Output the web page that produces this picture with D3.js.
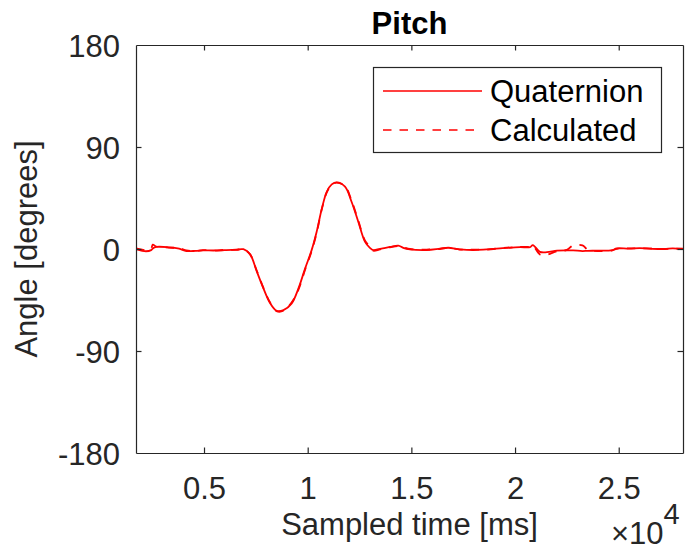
<!DOCTYPE html>
<html>
<head>
<meta charset="utf-8">
<script src="https://cdn.jsdelivr.net/npm/d3@7"></script>
<style>
  html, body { margin: 0; padding: 0; background: #fff; }
  svg { display: block; font-family: "Liberation Sans", Arial, Helvetica, sans-serif; }
</style>
</head>
<body>
<svg id="chart" width="687" height="551"></svg>
<script>
// Sample times (ms) shared by both pitch estimates
const sampleTime = [
  1720, 2200, 2450, 2530, 2700, 3300, 3800, 4150, 4600, 4950,
  5500, 6000, 6550, 6900, 7220, 7540, 7860, 8180, 8500, 8830,
  9230, 9550, 9870, 10190, 10430, 10680, 10920, 11160, 11400, 11800,
  12120, 12440, 12760, 13000, 13160, 13490, 13970, 14370, 14610, 14930,
  15740, 16380, 16780, 17340, 17990, 18630, 19600, 20240, 20720, 20860,
  21200, 21540, 22020, 22500, 22800, 23250, 23500, 24000, 24700, 24900,
  25500, 26000, 26600, 27200, 27600, 28100
];

// Pitch from the quaternion (degrees)
const quaternionPitch = [
  0.0, -2.0, -1.0, 0.5, 1.8, 1.5, 0.3, -1.8, -1.6, -1.2,
  -1.3, -1.0, -0.6, -0.2, -4.5, -19.5, -34.5, -47.5, -54.5, -54.0,
  -48.0, -35.0, -17.5, -1.0, 15.0, 35.5, 50.5, 57.0, 58.8, 55.0,
  41.5, 24.0, 6.5, 1.0, -0.9, 0.2, 1.8, 3.0, 1.0, -0.3,
  -0.9, 0.3, 1.1, -0.3, -0.9, -0.3, 1.0, 1.6, 1.6, 3.5,
  -2.5, -2.8, -1.5, -1.2, -1.2, -1.8, -1.6, -1.5, -1.0, 0.5,
  0.3, 0.8, 0.2, 0.0, 0.5, 0.0
];

// Pitch calculated from the raw sensor data (degrees)
const calculatedPitch = [
  0.5, -1.0, 0.5, 3.8, 2.2, 1.2, 0.8, -1.2, -2.0, -1.0,
  -1.5, -0.8, -0.8, -0.3, -4.8, -19.0, -34.0, -47.0, -54.8, -54.5,
  -47.0, -36.0, -18.5, -2.0, 14.0, 35.0, 50.0, 57.0, 58.5, 55.5,
  42.5, 25.0, 7.5, 2.0, -1.5, -0.3, 1.5, 2.5, 1.5, 0.0,
  -0.5, 0.0, 1.0, -0.5, -0.6, -0.5, 1.2, 1.8, 2.0, 3.0,
  -4.8, -5.0, -2.0, -0.8, 3.2, 3.2, -0.5, -1.8, -1.2, 0.2,
  0.5, 0.5, 0.4, 0.0, 0.3, 0.2
];

const xTicks = [5000, 10000, 15000, 20000, 25000];
const xTickLabels = ["0.5", "1", "1.5", "2", "2.5"];
const yTicks = [-180, -90, 0, 90, 180];
const yTickLabels = ["-180", "-90", "0", "90", "180"];
const seriesNames = ["Quaternion", "Calculated"];

const axisColor = "#262626";
const lineColor = "#ff0000";
const dashPattern = "8.5,8";
const plot = { left: 136, right: 683, top: 45, bottom: 453 };

const svg = d3.select("#chart");

const x = d3.scaleLinear().domain([1720, 28100]).range([plot.left, plot.right]);
const y = d3.scaleLinear().domain([-180, 180]).range([plot.bottom, plot.top]);

// Series lines
const line = vals => d3.line()
  .x((d, i) => x(sampleTime[i]))
  .y(d => y(d))
  .curve(d3.curveCatmullRom.alpha(0.5))(vals);

svg.append("clipPath").attr("id", "plotClip")
  .append("rect")
  .attr("x", plot.left).attr("y", plot.top)
  .attr("width", plot.right - plot.left).attr("height", plot.bottom - plot.top);

const lines = svg.append("g").attr("clip-path", "url(#plotClip)");
lines.append("path")
  .attr("d", line(quaternionPitch))
  .attr("fill", "none").attr("stroke", lineColor).attr("stroke-width", 1.8);
lines.append("path")
  .attr("d", line(calculatedPitch))
  .attr("fill", "none").attr("stroke", lineColor).attr("stroke-width", 1.8)
  .attr("stroke-dasharray", dashPattern);

// Axes (ticks pointing inward, box on all four sides)
const tickLen = 5.5;

const bottomAxis = svg.append("g")
  .attr("transform", `translate(0,${plot.bottom})`)
  .call(d3.axisBottom(x).tickValues(xTicks).tickFormat((d, i) => xTickLabels[i])
    .tickSizeInner(-tickLen).tickSizeOuter(0).tickPadding(46));
const topAxis = svg.append("g")
  .attr("transform", `translate(0,${plot.top})`)
  .call(d3.axisTop(x).tickValues(xTicks).tickFormat("").tickSizeInner(-tickLen).tickSizeOuter(0));
const leftAxis = svg.append("g")
  .attr("transform", `translate(${plot.left},0)`)
  .call(d3.axisLeft(y).tickValues(yTicks).tickFormat((d, i) => yTickLabels[i])
    .tickSizeInner(-tickLen).tickSizeOuter(0).tickPadding(16));
const rightAxis = svg.append("g")
  .attr("transform", `translate(${plot.right},0)`)
  .call(d3.axisRight(y).tickValues(yTicks).tickFormat("").tickSizeInner(-tickLen).tickSizeOuter(0));

[bottomAxis, topAxis, leftAxis, rightAxis].forEach(g => {
  g.select(".domain").attr("stroke", axisColor).attr("stroke-width", 1.2);
  g.selectAll(".tick line").attr("stroke", axisColor).attr("stroke-width", 1.2);
  g.selectAll(".tick text")
    .attr("fill", axisColor)
    .style("font-family", "'Liberation Sans', Arial, sans-serif")
    .style("font-size", "31px");
});
// drop tick marks that sit on the box corners
leftAxis.selectAll(".tick line").filter(d => d === -180 || d === 180).remove();
rightAxis.selectAll(".tick line").filter(d => d === -180 || d === 180).remove();
leftAxis.selectAll(".tick text").attr("dy", "0.36em");
bottomAxis.selectAll(".tick text").attr("dy", "0");

// Title and axis labels
svg.append("text")
  .attr("x", (plot.left + plot.right) / 2).attr("y", 34)
  .attr("text-anchor", "middle")
  .attr("font-weight", "bold").attr("font-size", 31).attr("fill", "#000")
  .text("Pitch");

svg.append("text")
  .attr("x", (plot.left + plot.right) / 2).attr("y", 535)
  .attr("text-anchor", "middle")
  .attr("font-size", 31).attr("fill", axisColor)
  .text("Sampled time [ms]");

svg.append("text")
  .attr("transform", `translate(37,${(plot.top + plot.bottom) / 2}) rotate(-90)`)
  .attr("text-anchor", "middle")
  .attr("font-size", 31).attr("fill", axisColor)
  .text("Angle [degrees]");

// Exponent label for the x axis
const expo = svg.append("text")
  .attr("x", 611).attr("y", 544)
  .attr("font-size", 31).attr("fill", axisColor);
expo.append("tspan").text("\u00d710");
expo.append("tspan").attr("dy", -20).attr("font-size", 29).text("4");

// Legend
const legend = svg.append("g");
legend.append("rect")
  .attr("x", 373.5).attr("y", 67.5).attr("width", 288).attr("height", 85)
  .attr("fill", "#fff").attr("stroke", axisColor).attr("stroke-width", 1.2);
const legendRows = [{ y: 91, dash: null }, { y: 130, dash: dashPattern }];
legendRows.forEach((r, i) => {
  legend.append("line")
    .attr("x1", 383).attr("x2", 482).attr("y1", r.y).attr("y2", r.y)
    .attr("stroke", lineColor).attr("stroke-width", 1.4)
    .attr("stroke-dasharray", r.dash);
  legend.append("text")
    .attr("x", 490).attr("y", r.y).attr("dy", "0.36em")
    .attr("font-size", 31).attr("fill", "#000")
    .text(seriesNames[i]);
});
</script>
</body>
</html>
